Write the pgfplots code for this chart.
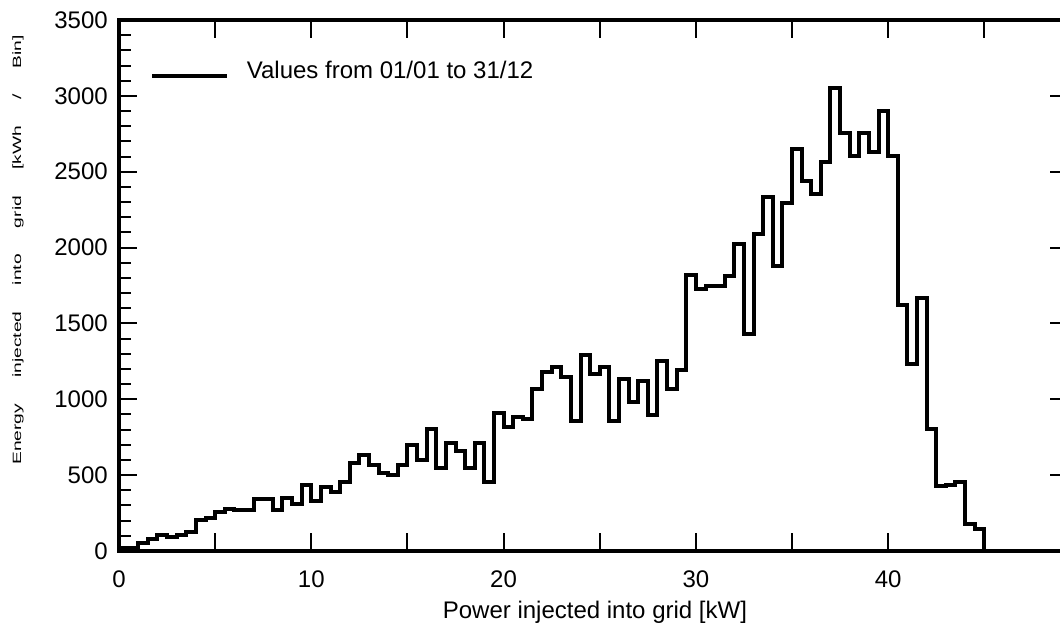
\documentclass[border=0pt]{standalone}
\usepackage{pgfplots}
\usepackage{pgfplotstable}
\pgfplotsset{compat=1.18}
\usepackage{fontspec}
\setmainfont{Liberation Sans}
\newfontfamily\stretchfont[FakeStretch=1.6]{Liberation Sans}

\pgfplotstableread{
x y
0.0 20
0.5 20
1.0 50
1.5 78
2.0 105
2.5 90
3.0 105
3.5 126
4.0 205
4.5 220
5.0 258
5.5 280
6.0 273
6.5 273
7.0 340
7.5 340
8.0 272
8.5 350
9.0 308
9.5 434
10.0 330
10.5 423
11.0 392
11.5 458
12.0 577
12.5 631
13.0 565
13.5 515
14.0 500
14.5 565
15.0 698
15.5 598
16.0 806
16.5 548
17.0 709
17.5 658
18.0 548
18.5 713
19.0 458
19.5 910
20.0 816
20.5 881
21.0 868
21.5 1065
22.0 1182
22.5 1212
23.0 1148
23.5 856
24.0 1290
24.5 1168
25.0 1212
25.5 856
26.0 1135
26.5 984
27.0 1120
27.5 894
28.0 1251
28.5 1065
29.0 1196
29.5 1820
30.0 1724
30.5 1746
31.0 1748
31.5 1815
32.0 2026
32.5 1428
33.0 2092
33.5 2334
34.0 1880
34.5 2292
35.0 2647
35.5 2438
36.0 2355
36.5 2566
37.0 3055
37.5 2756
38.0 2603
38.5 2754
39.0 2629
39.5 2898
40.0 2606
40.5 1624
41.0 1234
41.5 1668
42.0 801
42.5 428
43.0 432
43.5 452
44.0 180
44.5 146
45.0 0
}\hist

\begin{document}
\begin{tikzpicture}
\begin{axis}[
  at={(0,0)}, anchor=south west,
  scale only axis,
  width=721.1pt, height=398.25pt,
  xmin=0, xmax=50, ymin=0, ymax=3500,
  xtick={0,5,...,50},
  xticklabels={0,,10,,20,,30,,40,,},
  ytick={0,500,...,3500},
  minor y tick num=4,
  xtick pos=both,
  ytick pos=left,
  tick align=inside,
  major tick length=13.5pt,
  minor tick length=9pt,
  tick style={line width=1.5pt, black},
  axis line style={line width=3pt, black},
  /pgf/number format/assume math mode=true,
  /pgf/number format/1000 sep={},
  xticklabel style={font=\fontsize{18}{21.6}\selectfont, inner sep=0pt, anchor=north, yshift=-14.25pt},
  yticklabel style={font=\fontsize{18}{21.6}\selectfont, inner sep=0pt, anchor=east, xshift=-8.25pt},
  xlabel={Power injected into grid [kW]},
  xlabel style={font=\fontsize{18}{21.6}\selectfont, at={(axis description cs:0.495,0)}, anchor=base, yshift=-51pt, inner sep=0pt},
  ylabel={\makebox[322pt]{Energy\hfill injected\hfill into\hfill grid\hfill [kWh\hfill /\hfill Bin]}},
  ylabel style={font=\stretchfont\fontsize{9}{11}\selectfont, at={(axis description cs:-0.105,0.567)}, anchor=center, rotate=0, inner sep=0pt},
  legend style={at={(axis description cs:0.0322,0.904)}, anchor=west, draw=none, fill=none, inner sep=0pt,
    font=\fontsize{18}{21.6}\selectfont, nodes={inner sep=0pt}},
  legend cell align=left,
  legend image code/.code={\draw[line width=3pt] (0pt,-4pt) -- (56pt,-4pt); \path (69.5pt,0pt);},
]
\addplot[const plot, line width=3pt, black] table[x=x, y=y] {\hist};
\addlegendentry{Values from 01/01 to 31/12}
\end{axis}
\begin{axis}[
  at={(0,0)}, anchor=south west,
  scale only axis,
  width=721.1pt, height=398.25pt,
  xmin=0, xmax=50, ymin=0, ymax=3500,
  hide x axis,
  axis y line*=right,
  ytick={0,500,...,3500},
  yticklabels={},
  minor y tick num=0,
  tick align=inside,
  major tick length=22.5pt,
  tick style={line width=1.5pt, black},
  axis line style={line width=3pt, black},
]
\end{axis}
\pgfresetboundingbox
\useasboundingbox (-89.25pt,-54pt) rectangle (705.75pt,413.25pt);
\end{tikzpicture}
\end{document}
